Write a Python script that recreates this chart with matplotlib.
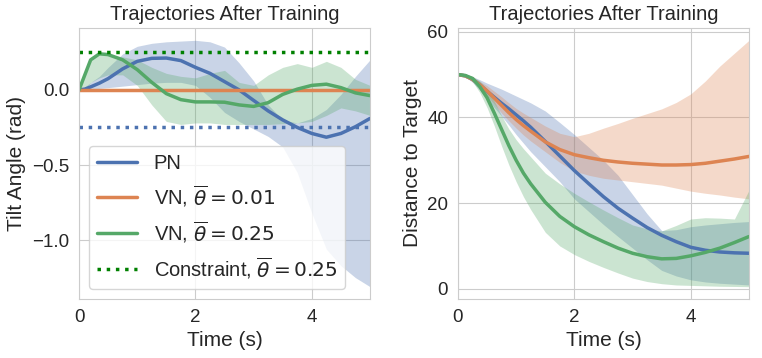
import matplotlib
matplotlib.use('Agg')
import matplotlib.pyplot as plt
import seaborn as sns

sns.set_style('whitegrid')
plt.rcParams['font.family'] = ['Liberation Sans', 'DejaVu Sans']

# tilt angle (left panel)
t_tilt = [0, 0.1, 0.2, 0.35, 0.5, 0.75, 1.0, 1.25, 1.5, 1.75, 2.0, 2.25, 2.5,
          2.75, 3.0, 3.25, 3.5, 3.75, 4.0, 4.25, 4.5, 4.75, 5.0]
pn_tilt = [0, 0.005, 0.02, 0.045, 0.075, 0.14, 0.19, 0.21, 0.212, 0.195, 0.15, 0.11, 0.055,
           0.0, -0.07, -0.14, -0.2, -0.25, -0.29, -0.315, -0.29, -0.245, -0.19]
pn_tilt_hi = [0, 0.02, 0.05, 0.09, 0.15, 0.24, 0.29, 0.31, 0.32, 0.325, 0.33, 0.32, 0.285,
              0.18, 0.06, -0.1, -0.2, -0.22, -0.19, -0.13, -0.03, 0.09, 0.2]
pn_tilt_lo = [0, 0.0, 0.005, 0.01, 0.015, 0.025, 0.035, 0.045, 0.05, 0.05, 0.03, -0.05, -0.15,
              -0.21, -0.26, -0.31, -0.38, -0.55, -0.82, -1.06, -1.17, -1.25, -1.31]
vn01_tilt = [0, 0, 0, 0, 0, 0, 0, 0, 0, 0, 0, 0, 0, 0, 0, 0, 0, 0, 0, 0, 0, 0, 0]
vn01_tilt_hi = [0, 0.002, 0.003, 0.004, 0.004, 0.004, 0.004, 0.004, 0.004, 0.004, 0.004, 0.004,
                0.004, 0.004, 0.004, 0.004, 0.004, 0.004, 0.004, 0.004, 0.004, 0.004, 0.004]
vn01_tilt_lo = [0, -0.002, -0.003, -0.004, -0.004, -0.004, -0.004, -0.004, -0.004, -0.004,
                -0.004, -0.004, -0.004, -0.004, -0.004, -0.004, -0.004, -0.004, -0.004,
                -0.004, -0.004, -0.004, -0.004]
vn25_tilt = [0, 0.1, 0.2, 0.24, 0.235, 0.2, 0.135, 0.05, -0.025, -0.065, -0.08, -0.08, -0.082,
             -0.1, -0.11, -0.085, -0.03, 0.005, 0.03, 0.038, 0.015, -0.02, -0.038]
vn25_tilt_hi = [0, 0.1, 0.2, 0.235, 0.235, 0.22, 0.2, 0.15, 0.11, 0.09, 0.08, 0.11, 0.13,
                0.05, 0.03, 0.1, 0.15, 0.175, 0.15, 0.19, 0.15, 0.07, 0.03]
vn25_tilt_lo = [0, 0.0, 0.05, 0.08, 0.1, 0.1, 0.03, -0.1, -0.21, -0.23, -0.22, -0.22, -0.23,
                -0.23, -0.23, -0.23, -0.225, -0.22, -0.21, -0.17, -0.12, -0.14, -0.17]
constraint = 0.25

# distance to target (right panel)
t_dist = [0, 0.125, 0.25, 0.375, 0.5, 0.625, 0.75, 0.875, 1.0, 1.125, 1.25, 1.5, 1.75, 2.0,
          2.25, 2.5, 2.75, 3.0, 3.25, 3.5, 3.75, 4.0, 4.25, 4.5, 4.75, 5.0]
pn_dist = [50, 49.7, 48.9, 47.6, 46.1, 44.7, 43.3, 42, 40.6, 39.2, 37.7, 34.4, 31, 27.6,
           24.5, 21.5, 18.8, 16.5, 14.3, 12.5, 11, 9.7, 9, 8.6, 8.4, 8.3]
pn_dist_hi = [50, 49.9, 49.5, 48.8, 48, 47.3, 46.6, 45.8, 45, 44.2, 43.4, 41.5, 38.8, 36,
              33, 30, 26.5, 22, 17.5, 13.6, 13.8, 14.5, 14.9, 15.2, 15.5, 15.7]
pn_dist_lo = [50, 49.5, 48.2, 46.4, 44.3, 42.3, 40.3, 38.2, 36, 34, 32, 28.5, 25, 21,
              18, 15, 12.2, 9.5, 6.8, 4.3, 3, 2.1, 1.6, 1.3, 1.1, 0.9]
vn01_dist = [50, 49.7, 48.9, 47.6, 46.2, 44.5, 42.8, 41.1, 39.5, 38.1, 36.8, 34.3, 32.5, 31.3,
             30.6, 30.0, 29.6, 29.3, 29.1, 28.9, 28.9, 29.0, 29.3, 29.8, 30.3, 30.9]
vn01_dist_hi = [50, 49.8, 49.3, 48.4, 47.4, 46.1, 44.8, 43.4, 42.1, 41, 40, 38, 36.3, 35.5,
                36.3, 37.5, 38.6, 39.8, 40.9, 42, 43.5, 45.5, 48.5, 52, 55, 58]
vn01_dist_lo = [50, 49.6, 48.5, 46.9, 45.1, 43.1, 41, 39.2, 37.5, 35.9, 34.5, 32, 29.5, 27.5,
                26.5, 25.8, 25.4, 25, 24.6, 24.2, 23.5, 22.8, 22.3, 21.9, 21.4, 21]
vn25_dist = [50, 49.8, 49.1, 47.2, 44.6, 41, 37.2, 33.4, 30.0, 27.0, 24.5, 20.2, 16.9, 14.5,
             12.6, 11, 9.5, 8.3, 7.5, 7.0, 7.1, 7.7, 8.5, 9.5, 10.8, 12.2]
vn25_dist_hi = [50, 49.9, 49.6, 48.5, 46.7, 43.8, 40.4, 37.3, 34.8, 32.7, 30.8, 27, 24.5, 22.3,
                20.3, 18.4, 16.6, 14.9, 14, 13.5, 14.8, 16.3, 16.6, 16.5, 16.3, 23]
vn25_dist_lo = [50, 49.6, 48.4, 45.8, 42.3, 38, 33.3, 28.9, 25, 21.5, 18.5, 13.2, 10, 8,
                6.4, 5, 3.7, 2.5, 1.7, 1.2, 0.9, 0.8, 0.7, 0.6, 0.55, 0.5]

blue, orange, green = '#4C72B0', '#DD8452', '#55A868'
tick_fs, label_fs, title_fs, legend_fs = 13.5, 15, 14.5, 14.5

fig = plt.figure(figsize=(7.62, 3.58), dpi=100)
ax1 = fig.add_axes([0.1037, 0.1648, 0.3819, 0.757])
ax2 = fig.add_axes([0.6010, 0.1648, 0.3819, 0.757])

# left: tilt angle
ax1.fill_between(t_tilt, pn_tilt_lo, pn_tilt_hi, color=blue, alpha=0.3, lw=0)
ax1.fill_between(t_tilt, vn01_tilt_lo, vn01_tilt_hi, color=orange, alpha=0.3, lw=0)
ax1.fill_between(t_tilt, vn25_tilt_lo, vn25_tilt_hi, color=green, alpha=0.3, lw=0)
ax1.plot(t_tilt, pn_tilt, color=blue, lw=2.5, label='PN')
ax1.plot(t_tilt, vn01_tilt, color=orange, lw=2.5, label=r'VN, $\overline{\theta}=0.01$')
ax1.plot(t_tilt, vn25_tilt, color=green, lw=2.5, label=r'VN, $\overline{\theta}=0.25$')
ax1.axhline(constraint, color='#008000', ls=':', lw=2.5,
            label=r'Constraint, $\overline{\theta}=0.25$')
ax1.axhline(-constraint, color=blue, ls=':', lw=2.5)
ax1.set_xlim(0, 5)
ax1.set_ylabel('Tilt Angle (rad)', fontsize=label_fs, color='.15')
ax1.set_xlabel('Time (s)', fontsize=label_fs, color='.15')
ax1.set_title('Trajectories After Training', fontsize=title_fs, color='.15')
ax1.legend(loc='lower left', fontsize=legend_fs)

# right: distance to target
ax2.fill_between(t_dist, pn_dist_lo, pn_dist_hi, color=blue, alpha=0.3, lw=0)
ax2.fill_between(t_dist, vn01_dist_lo, vn01_dist_hi, color=orange, alpha=0.3, lw=0)
ax2.fill_between(t_dist, vn25_dist_lo, vn25_dist_hi, color=green, alpha=0.3, lw=0)
ax2.plot(t_dist, pn_dist, color=blue, lw=2.5)
ax2.plot(t_dist, vn01_dist, color=orange, lw=2.5)
ax2.plot(t_dist, vn25_dist, color=green, lw=2.5)
ax2.set_xlim(0, 5)
ax2.set_yticks([0, 20, 40, 60])
ax2.set_ylabel('Distance to Target', fontsize=label_fs, color='.15')
ax2.set_xlabel('Time (s)', fontsize=label_fs, color='.15')
ax2.set_title('Trajectories After Training', fontsize=title_fs, color='.15')

for ax in (ax1, ax2):
    ax.set_xticks([0, 2, 4])
    ax.tick_params(labelsize=tick_fs, labelcolor='.15')

fig.savefig('out.png', dpi=100)
